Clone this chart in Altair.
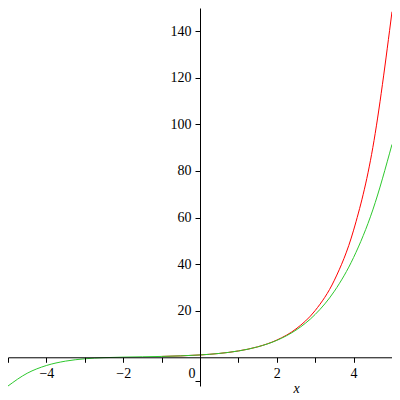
import altair as alt
import pandas as pd

# x samples
xs = [-5.0, -4.5, -4.0, -3.5, -3.0, -2.5, -2.0, -1.5, -1.0, -0.5, 0.0,
      0.5, 1.0, 1.5, 2.0, 2.5, 3.0, 3.5, 4.0, 4.5, 5.0]
# red curve
red_vals = [0.0067, 0.011, 0.018, 0.030, 0.050, 0.082, 0.135, 0.223, 0.368, 0.607, 1.0,
            1.649, 2.718, 4.482, 7.389, 12.18, 20.09, 33.12, 54.60, 90.02, 148.41]
# green curve
green_vals = [-12.333, -6.854, -3.533, -1.645, -0.650, -0.165, 0.067, 0.210, 0.367, 0.607, 1.0,
              1.649, 2.717, 4.462, 7.267, 11.671, 18.40, 28.40, 42.87, 63.28, 91.42]

x_ticks = [-5, -4, -3, -2, -1, 1, 2, 3, 4, 5]
y_ticks = [-10, 10, 20, 30, 40, 50, 60, 70, 80, 90, 100, 110, 120, 130, 140, 150]

red_df = pd.DataFrame({"x": xs, "y": red_vals})
green_df = pd.DataFrame({"x": xs, "y": green_vals})

W, H = 384, 378
XMIN, XMAX = -5, 5
YMIN, YMAX = -12.333, 150
x_off = -(0 - XMIN) / (XMAX - XMIN) * W
y_off = -(0 - YMIN) / (YMAX - YMIN) * H

font = "Liberation Serif"

xscale = alt.Scale(domain=[XMIN, XMAX], nice=False, zero=False)
yscale = alt.Scale(domain=[YMIN, YMAX], nice=False, zero=False)

xaxis = alt.Axis(values=x_ticks, offset=y_off, grid=False, title="x", zindex=1,
                 titleFontStyle="italic", titleFont=font, titleFontSize=14,
                 titleFontWeight="normal", titleX=285, titleY=31,
                 titleBaseline="middle", titleAnchor="start",
                 labelExpr="datum.value % 2 == 0 ? datum.label : ''",
                 labelFont=font, labelFontSize=14, labelColor="black",
                 domainColor="black", tickColor="black", tickSize=5,
                 labelPadding=4, labelFlush=False)
yaxis = alt.Axis(values=y_ticks, offset=x_off, grid=False, title=None, zindex=1,
                 labelExpr="datum.value % 20 == 0 && datum.value > 0 ? datum.label : ''",
                 labelFont=font, labelFontSize=14, labelColor="black",
                 domainColor="black", tickColor="black", tickSize=5,
                 labelPadding=4, labelFlush=False)

# the red curve lies under the axis / green curve on the left, so only its visible part is drawn
red = alt.Chart(red_df).transform_filter("datum.x >= -1").mark_line(
    strokeWidth=1, interpolate="monotone", color="#FF0000").encode(
    x=alt.X("x:Q", scale=xscale, axis=xaxis),
    y=alt.Y("y:Q", scale=yscale, axis=yaxis),
)
green = alt.Chart(green_df).mark_line(strokeWidth=1, interpolate="monotone", color="#2EC82E").encode(
    x=alt.X("x:Q", scale=xscale),
    y=alt.Y("y:Q", scale=yscale),
)

zero_df = pd.DataFrame({"x": [0], "y": [0], "t": ["0"]})
zero_label = alt.Chart(zero_df).mark_text(font=font, fontSize=14, dx=-8, dy=17,
                                          color="black").encode(
    x=alt.X("x:Q", scale=xscale),
    y=alt.Y("y:Q", scale=yscale),
    text="t:N",
)

chart = alt.layer(red, green, zero_label).properties(
    width=W, height=H,
    autosize=alt.AutoSizeParams(type="none"),
    padding={"left": 0, "top": 0, "right": 0, "bottom": 14},
).configure_view(stroke=None)

chart.save("out.html", embed_options={"renderer": "svg", "actions": False})
